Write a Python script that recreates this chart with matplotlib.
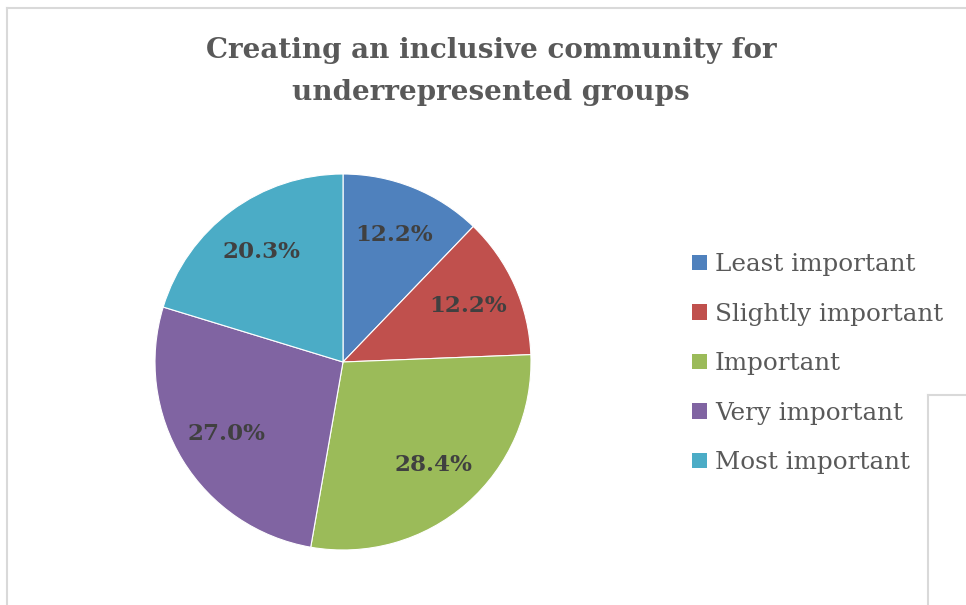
import matplotlib
matplotlib.use("Agg")
import matplotlib.pyplot as plt
from matplotlib.lines import Line2D
from matplotlib.patches import Patch

categories = ["Least important", "Slightly important", "Important",
              "Very important", "Most important"]
shares = [12.2, 12.2, 28.4, 27.0, 20.3]
colors = ["#4F81BD", "#C0504D", "#9BBB59", "#8064A2", "#4BACC6"]
title = "Creating an inclusive community for\nunderrepresented groups"

W, H = 966, 605
fig = plt.figure(figsize=(W / 100, H / 100), dpi=100)

serif = ["DejaVu Serif"]

# pie axes: centre (343, 362) px, radius 188 px
cx, cy, r = 343, 362, 188
ax = fig.add_axes([(cx - r) / W, (H - cy - r) / H, 2 * r / W, 2 * r / H])
wedges, texts, autotexts = ax.pie(
    shares, colors=colors, startangle=90, counterclock=False,
    autopct="%1.1f%%", pctdistance=0.73,
    wedgeprops=dict(edgecolor="white", linewidth=0.8),
    textprops=dict(family=serif, fontsize=16.6, fontweight="bold", color="#404040"),
)
ax.set_xlim(-1, 1)
ax.set_ylim(-1, 1)
ax.set_aspect("equal")

fig.text(491 / W, 1 - 37 / H, title, ha="center", va="top",
         family=serif, fontsize=20, fontweight="bold", color="#595959",
         linespacing=1.7)

handles = [Patch(facecolor=c, edgecolor="none") for c in colors]
leg = fig.legend(handles, categories, loc="upper left",
                 bbox_to_anchor=(670 / W, 1 - 231 / H),
                 frameon=False, handlelength=0.6, handleheight=0.6,
                 handletextpad=0.33, labelspacing=1.08,
                 prop=dict(family=serif, size=17.7))
for t in leg.get_texts():
    t.set_color("#595959")

# chart frame
frame = "#D9D9D9"
def px_line(x0, y0, x1, y1):
    fig.add_artist(Line2D([x0 / W, x1 / W], [1 - y0 / H, 1 - y1 / H],
                          transform=fig.transFigure, color=frame, lw=1.5))
px_line(7, 8, W, 8)
px_line(7, 8, 7, H)
px_line(928, 395, W, 395)
px_line(928, 395, 928, H)

fig.savefig("out.png", dpi=100, facecolor="white")
